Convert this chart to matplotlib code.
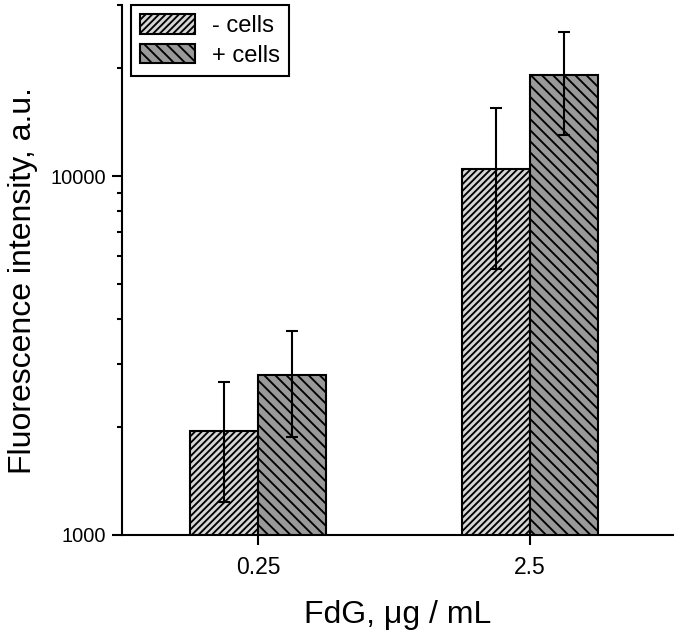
import matplotlib
matplotlib.use("Agg")
import matplotlib.pyplot as plt
import numpy as np
from matplotlib.ticker import FixedLocator, NullFormatter

# Values
categories = ["0.25", "2.5"]
minus_cells = [1950, 10500]
minus_err = [715, 5000]
plus_cells = [2790, 19100]
plus_err = [915, 6100]
series_labels = ["- cells", "+ cells"]
y_major = [1000, 10000]
y_minor = [2000, 3000, 4000, 5000, 6000, 7000, 8000, 9000, 20000, 30000]

plt.rcParams["font.family"] = ["Liberation Sans", "DejaVu Sans"]
plt.rcParams["hatch.linewidth"] = 1.35
plt.rcParams["hatch.color"] = "black"

DPI = 100
fig = plt.figure(figsize=(674 / DPI, 635 / DPI), dpi=DPI)
ax = fig.add_axes([122 / 674, 100 / 635, 551 / 674, 530 / 635])

x = np.arange(len(categories))
width = 0.25

ax.bar(x - width / 2, minus_cells, width, color="#d6d6d6", edgecolor="black",
       linewidth=1.5, hatch="/////", label=series_labels[0], zorder=2)
ax.bar(x + width / 2, plus_cells, width, color="#999999", edgecolor="black",
       linewidth=1.5, hatch="\\\\\\", label=series_labels[1], zorder=2)

ax.errorbar(x - width / 2, minus_cells, yerr=minus_err, fmt="none",
            ecolor="black", elinewidth=1.5, capsize=4.4, capthick=1.5, zorder=3)
ax.errorbar(x + width / 2, plus_cells, yerr=plus_err, fmt="none",
            ecolor="black", elinewidth=1.5, capsize=4.4, capthick=1.5, zorder=3)

ax.set_yscale("log")
ax.set_ylim(1000, 30000)
ax.set_xlim(-0.5, 1.525)

ax.yaxis.set_major_locator(FixedLocator(y_major))
ax.yaxis.set_minor_locator(FixedLocator(y_minor))
ax.set_yticklabels([str(v) for v in y_major])
ax.yaxis.set_minor_formatter(NullFormatter())
ax.set_xticks(x)
ax.set_xticklabels(categories)

ax.spines["top"].set_visible(False)
ax.spines["right"].set_visible(False)
for side in ["left", "bottom"]:
    ax.spines[side].set_linewidth(1.5)

ax.tick_params(axis="both", which="major", direction="out", length=7.2,
               width=1.5)
ax.tick_params(axis="y", which="minor", direction="out", length=3.6, width=1.5)
ax.tick_params(axis="x", which="major", pad=8, labelsize=16.5)
ax.tick_params(axis="y", which="major", pad=4.4, labelsize=14.4)

ax.set_xlabel("FdG, μg / mL", fontsize=23, labelpad=15)
ax.set_ylabel("Fluorescence intensity, a.u.", fontsize=23)
ax.yaxis.set_label_coords(-0.152, 0.481)

leg = ax.legend(loc="upper left", bbox_to_anchor=(9 / 551, 1.0),
                borderaxespad=0, fontsize=17.1, handlelength=2.3,
                handleheight=0.9, handletextpad=0.75, labelspacing=0.28,
                borderpad=0.38, fancybox=False, framealpha=1)
leg.get_frame().set_edgecolor("black")
leg.get_frame().set_linewidth(1.5)

fig.savefig("out.png", dpi=DPI)
